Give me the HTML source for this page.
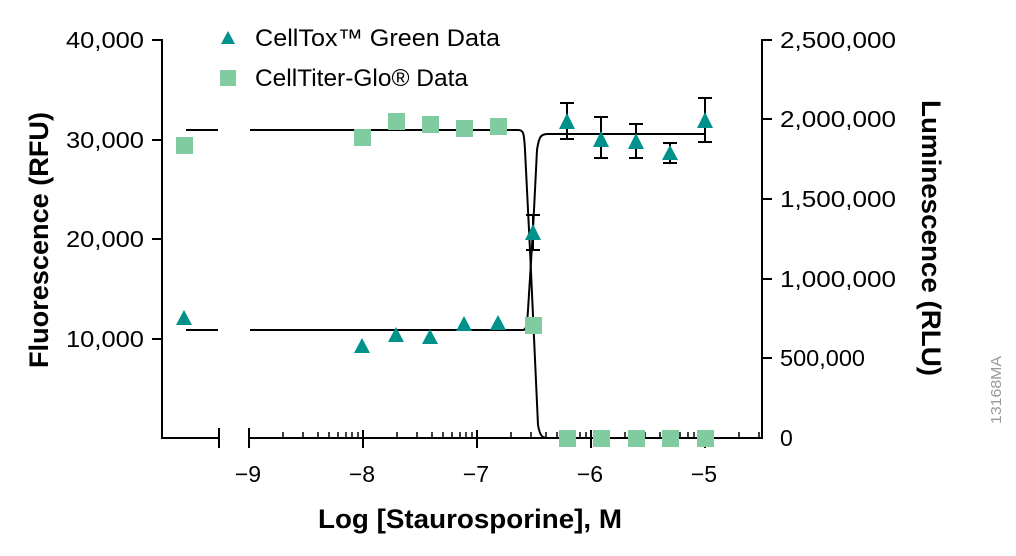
<!DOCTYPE html>
<html><head><meta charset="utf-8"><style>
html,body{margin:0;padding:0;background:#fff;}
svg{display:block;font-family:"Liberation Sans",sans-serif;}
</style></head><body>
<svg width="1016" height="556" viewBox="0 0 1016 556">
<g stroke="#000" stroke-width="2" fill="none">
 <path d="M152,40H162V438H219M219,428V448M249,428V448M249,438H762V40H772"/>
 <path d="M152,140H162M152,239H162M152,339H162"/>
 <path d="M762,119H772M762,199H772M762,279H772M762,358H772"/>
 <path d="M363,430V448M477,430V448M591,430V448M705,430V448M762,430V438"/>
 <g stroke-width="1.5">
 <path d="M283,432V438M303,432V438M318,432V438M329,432V438M338,432V438M346,432V438M352,432V438M358,432V438"/>
 <path d="M397,432V438M417,432V438M432,432V438M443,432V438M452,432V438M460,432V438M466,432V438M472,432V438"/>
 <path d="M511,432V438M531,432V438M546,432V438M557,432V438M566,432V438M574,432V438M580,432V438M586,432V438"/>
 <path d="M625,432V438M645,432V438M660,432V438M671,432V438M680,432V438M688,432V438M694,432V438M700,432V438"/>
 <path d="M739,432V438M759,432V438"/>
 </g>
 <g stroke-width="2">
 <path d="M186,130H218M250,130H518C524,130 524,134 525,150L530,250L538,425C540,436 542,438 548,438H705"/>
 <path d="M186,330H218M250,330H523C526,330 527,326 528,310L533,230L537,150C539,136 541,134 548,134H705"/>
 </g>
 <g stroke-width="2">
  <path d="M533,215V250M526,215H540M526,250H540"/>
  <path d="M567,103V139M560,103H574M560,139H574"/>
  <path d="M601,117V158M594,117H608M594,158H608"/>
  <path d="M636,124V158M629,124H643M629,158H643"/>
  <path d="M670,143V163M663,143H677M663,163H677"/>
  <path d="M705,98V142M698,98H712M698,142H712"/>
 </g>
</g>
<g fill="#80cba0">
 <rect x="176" y="137" width="17" height="17"/>
 <rect x="354" y="129" width="17" height="17"/>
 <rect x="388" y="113" width="17" height="17"/>
 <rect x="422" y="116" width="17" height="17"/>
 <rect x="456" y="120" width="17" height="17"/>
 <rect x="490" y="118" width="17" height="17"/>
 <rect x="525" y="317" width="17" height="17"/>
 <rect x="559" y="430" width="17" height="17"/>
 <rect x="593" y="430" width="17" height="17"/>
 <rect x="628" y="430" width="17" height="17"/>
 <rect x="662" y="430" width="17" height="17"/>
 <rect x="697" y="430" width="17" height="17"/>
 <rect x="220" y="70" width="16" height="16"/>
</g>
<g fill="#00918a">
 <path d="M184,310l-8,15h16z"/>
 <path d="M362,338l-8,15h16z"/>
 <path d="M396,327l-8,15h16z"/>
 <path d="M430,329l-8,15h16z"/>
 <path d="M464,316l-8,15h16z"/>
 <path d="M498,315l-8,15h16z"/>
 <path d="M533,224l-8,16h16z"/>
 <path d="M567,113l-8,16h16z"/>
 <path d="M601,131l-8,16h16z"/>
 <path d="M636,133l-8,16h16z"/>
 <path d="M670,145l-8,15h16z"/>
 <path d="M705,112l-8,16h16z"/>
 <path d="M228,31l-7,13h14z"/>
</g>
<g font-size="23" fill="#000" text-anchor="end">
 <text x="144" y="48" textLength="78" lengthAdjust="spacingAndGlyphs">40,000</text>
 <text x="144" y="148" textLength="78" lengthAdjust="spacingAndGlyphs">30,000</text>
 <text x="144" y="247" textLength="78" lengthAdjust="spacingAndGlyphs">20,000</text>
 <text x="144" y="347" textLength="78" lengthAdjust="spacingAndGlyphs">10,000</text>
</g>
<g font-size="23" fill="#000">
 <text x="780" y="48" textLength="116" lengthAdjust="spacingAndGlyphs">2,500,000</text>
 <text x="780" y="127" textLength="116" lengthAdjust="spacingAndGlyphs">2,000,000</text>
 <text x="780" y="207" textLength="116" lengthAdjust="spacingAndGlyphs">1,500,000</text>
 <text x="780" y="287" textLength="116" lengthAdjust="spacingAndGlyphs">1,000,000</text>
 <text x="780" y="366" textLength="85" lengthAdjust="spacingAndGlyphs">500,000</text>
 <text x="780" y="446">0</text>
</g>
<g font-size="23" fill="#000" text-anchor="middle">
 <text x="248" y="482">−9</text>
 <text x="362" y="482">−8</text>
 <text x="476" y="482">−7</text>
 <text x="590" y="482">−6</text>
 <text x="704" y="482">−5</text>
</g>
<text x="470" y="528" font-size="27" font-weight="bold" text-anchor="middle" textLength="304" lengthAdjust="spacingAndGlyphs">Log [Staurosporine], M</text>
<text transform="translate(48,240) rotate(-90)" font-size="27" font-weight="bold" text-anchor="middle" textLength="256" lengthAdjust="spacingAndGlyphs">Fluorescence (RFU)</text>
<text transform="translate(922,238) rotate(90)" font-size="27" font-weight="bold" text-anchor="middle" textLength="276" lengthAdjust="spacingAndGlyphs">Luminescence (RLU)</text>
<text x="255" y="46" font-size="24" textLength="245" lengthAdjust="spacingAndGlyphs">CellTox™ Green Data</text>
<text x="255" y="86" font-size="24" textLength="213" lengthAdjust="spacingAndGlyphs">CellTiter-Glo® Data</text>
<text transform="translate(1001,390) rotate(-90)" font-size="15" fill="#999" text-anchor="middle" textLength="68" lengthAdjust="spacingAndGlyphs">13168MA</text>
</svg>
</body></html>
